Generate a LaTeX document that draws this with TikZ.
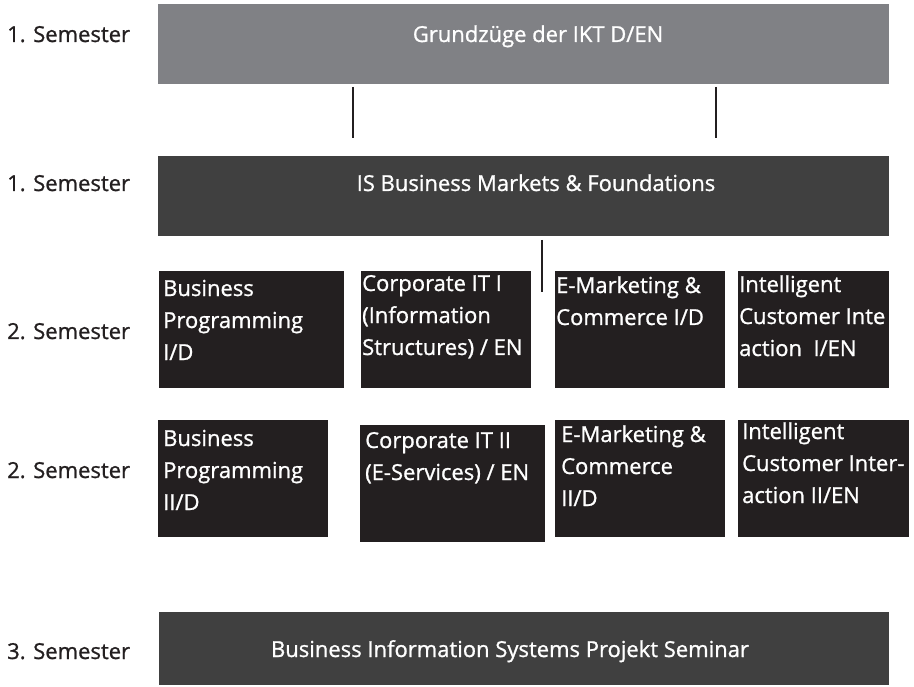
\documentclass[tikz,border=0pt]{standalone}
\usepackage{fontspec}
\setmainfont{Open Sans}[FakeBold=1.0]
\usetikzlibrary{positioning,calc}

\definecolor{ikt}{RGB}{128,129,133}
\definecolor{modul}{RGB}{64,64,64}
\definecolor{kurs}{RGB}{35,31,32}

\tikzset{
  schrift/.style={font=\fontsize{22}{32}\selectfont},
  block/.style={anchor=north west,inner sep=0pt,draw=none},
  kursbox/.style={block,fill=kurs},
  % Anker an der Grundlinie der letzten Zeile
  kurstext/.style={schrift,text=white,anchor=base west,inner sep=0pt,align=left},
  sem/.style={schrift,text=kurs,anchor=base west,inner sep=0pt},
  strich/.style={kurs,line width=2.2pt}
}

\begin{document}
\begin{tikzpicture}[x=1pt,y=-1pt]
  \useasboundingbox (0,0) rectangle (914,687);

  % Semesterangaben links
  \node[sem] (s1) at (7,42) {1. Semester};
  \node[sem] (s1b) at (7,191) {1. Semester};
  \node[sem] (s2) at (7,339) {2. Semester};
  \node[sem] (s2b) at (7,478) {2. Semester};
  \node[sem] (s3) at (7,659) {3. Semester};

  % Grundlagen
  \node[block,fill=ikt,minimum width=731,minimum height=80] (ikt) at (158,4) {};
  \node[schrift,text=white,anchor=base,inner sep=0pt] (iktt) at (538,42) {Grundzüge der IKT D/EN};

  \node[block,fill=modul,minimum width=731,minimum height=80] (isb) at (158,156) {};
  \node[schrift,text=white,anchor=base,inner sep=0pt] (isbt) at (536,191) {IS Business Markets \& Foundations};

  % Verbindungsstriche
  \coordinate (v1o) at (353,87);
  \coordinate (v1u) at (353,138);
  \coordinate (v2o) at (716,87);
  \coordinate (v2u) at (716,138);
  \coordinate (v3o) at (542,240);
  \coordinate (v3u) at (542,292);
  \draw[strich] (v1o) -- (v1u);
  \draw[strich] (v2o) -- (v2u);
  \draw[strich] (v3o) -- (v3u);

  % 2. Semester, erste Reihe
  \node[kursbox,minimum width=185,minimum height=117] (bp1) at (159,271) {};
  \node[kurstext] (bp1t) at ($(bp1.north west)+(4,89)$) {Business\\Programming\\I/D};

  \node[kursbox,minimum width=170,minimum height=117] (ci1) at (361,271) {};
  \node[kurstext] (ci1t) at ($(ci1.north west)+(1,84)$) {Corporate IT I\\(Information\\Structures) / EN};

  \node[kursbox,minimum width=170,minimum height=117] (em1) at (555,271) {};
  \node[kurstext] (em1t) at ($(em1.north west)+(1,54)$) {E-Marketing \&\\Commerce I/D};

  \node[kursbox,minimum width=151,minimum height=117] (ic1) at (738,271) {};
  \node[kurstext] (ic1t) at ($(ic1.north west)+(1,85)$) {Intelligent\\Customer Inte\\action\ \ I/EN};

  % 2. Semester, zweite Reihe
  \node[kursbox,minimum width=170,minimum height=117] (bp2) at (158,420) {};
  \node[kurstext] (bp2t) at ($(bp2.north west)+(5,90)$) {Business\\Programming\\II/D};

  \node[kursbox,minimum width=185,minimum height=117] (ci2) at (360,425) {};
  \node[kurstext] (ci2t) at ($(ci2.north west)+(5,55)$) {Corporate IT II\\(E-Services) / EN};

  \node[kursbox,minimum width=170,minimum height=117] (em2) at (555,420) {};
  \node[kurstext] (em2t) at ($(em2.north west)+(6,86)$) {E-Marketing \&\\Commerce\\II/D};

  \node[kursbox,minimum width=171,minimum height=117] (ic2) at (738,420) {};
  \node[kurstext] (ic2t) at ($(ic2.north west)+(4,83)$) {Intelligent\\Customer Inter-\\action II/EN};

  % 3. Semester
  \node[block,fill=modul,minimum width=730,minimum height=73] (bis) at (159,612) {};
  \node[schrift,text=white,anchor=base,inner sep=0pt] (bist) at (510,657) {Business Information Systems Projekt Seminar};
\end{tikzpicture}
\end{document}
